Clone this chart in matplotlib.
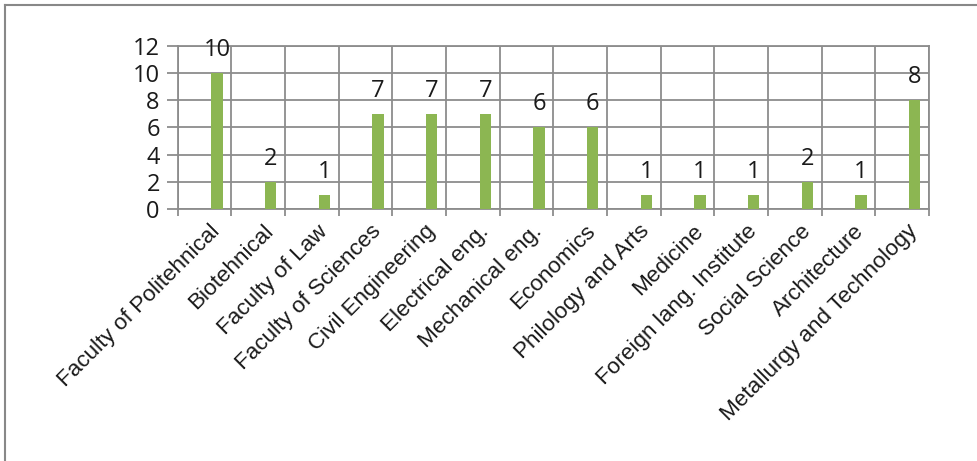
import matplotlib.pyplot as plt
import numpy as np

# categories and counts
faculties = ["Faculty of Politehnical", "Biotehnical", "Faculty of Law",
             "Faculty of Sciences", "Civil Engineering", "Electrical eng.",
             "Mechanical eng.", "Economics", "Philology and Arts", "Medicine",
             "Foreign lang. Institute", "Social Science", "Architecture",
             "Metallurgy and Technology"]
counts = [10, 2, 1, 7, 7, 7, 6, 6, 1, 1, 1, 2, 1, 8]
yticks = [0, 2, 4, 6, 8, 10, 12]

grid_col = "#8c8c8c"
bar_col = "#8cb652"

fig = plt.figure(figsize=(9.77, 4.61), dpi=100)
ax = fig.add_axes([0.182, 0.547, 0.769, 0.353])

x = np.arange(len(faculties))
# bars sit right of the cell centre, like an Excel cluster with an empty series
xb = x + 0.23
ax.bar(xb, counts, width=0.21, color=bar_col, zorder=3)

# value labels above bars
for xi, v in zip(xb, counts):
    ax.annotate(str(v), (xi, v), xytext=(0, 8), textcoords="offset points",
                ha="center", va="bottom", fontsize=17, family="Open Sans",
                color="#1a1a1a", zorder=4, annotation_clip=False)

ax.set_xlim(-0.5, len(faculties) - 0.5)
ax.set_ylim(0, 12)
ax.set_yticks(yticks)
ax.set_yticklabels([str(t) for t in yticks], family="Open Sans", fontsize=17,
                   color="#1a1a1a")
ax.yaxis.grid(True, color=grid_col, linewidth=1.3, zorder=0)

# vertical grid at category boundaries
bounds = np.arange(-0.5, len(faculties), 1.0)
ax.set_xticks(bounds, minor=True)
ax.xaxis.grid(True, which="minor", color=grid_col, linewidth=1.3, zorder=0)
ax.tick_params(axis="x", which="minor", length=5, color=grid_col, width=1.3)
ax.tick_params(axis="x", which="major", length=0, pad=14)
ax.tick_params(axis="y", length=8, color=grid_col, width=1.3, pad=5)

ax.set_xticks(xb)
ax.set_xticklabels(faculties, rotation=45, ha="right", va="center",
                   rotation_mode="anchor", family="Liberation Sans",
                   fontsize=16.2, color="#1a1a1a")

for s in ax.spines.values():
    s.set_color(grid_col)
    s.set_linewidth(1.3)

# outer frame lines (top and left only)
fig.add_artist(plt.Line2D([0.005, 1.0], [0.989, 0.989], color="#888888", lw=1.5))
fig.add_artist(plt.Line2D([0.005, 0.005], [0.0, 0.989], color="#888888", lw=1.5))

fig.savefig("out.png", dpi=100)
